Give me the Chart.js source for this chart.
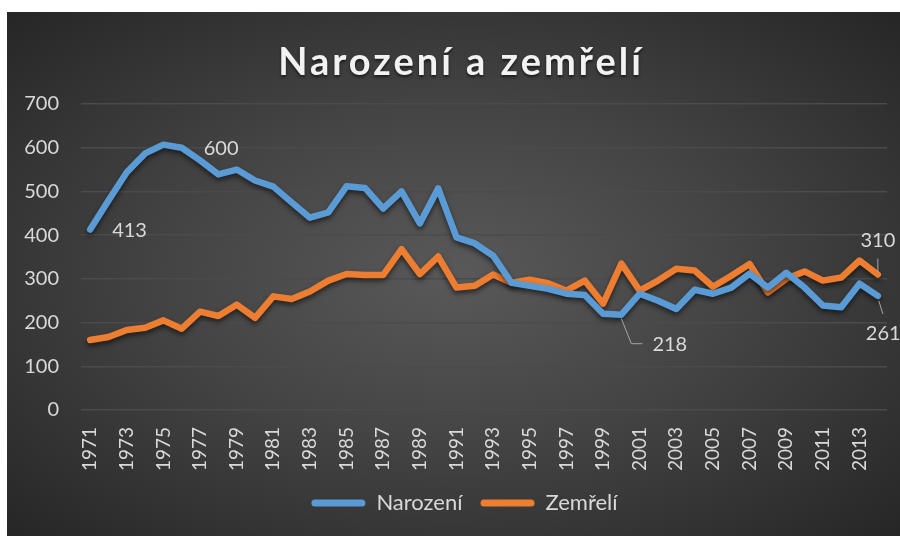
<!DOCTYPE html>
<html lang="cs">
<head>
<meta charset="UTF-8">
<title>Narození a zemřelí</title>
<script src="https://cdn.jsdelivr.net/npm/chart.js"></script>
<style>
  body { margin: 0; background: #fff; }
  #box {
    position: absolute; left: 7px; top: 12px; width: 893px; height: 524px;
    background: radial-gradient(ellipse at 50% 50%, #595959 0%, #444 45%, #262626 100%);
  }
</style>
</head>
<body>
<div id="box"><canvas id="chart" width="893" height="524"></canvas></div>
<script>
const years = [1971, 1972, 1973, 1974, 1975, 1976, 1977, 1978, 1979, 1980,
  1981, 1982, 1983, 1984, 1985, 1986, 1987, 1988, 1989, 1990,
  1991, 1992, 1993, 1994, 1995, 1996, 1997, 1998, 1999, 2000,
  2001, 2002, 2003, 2004, 2005, 2006, 2007, 2008, 2009, 2010,
  2011, 2012, 2013, 2014];
const narozeni = [413, 479, 544, 587, 607, 600, 571, 539, 550, 525,
  511, 475, 440, 452, 512, 508, 461, 500, 427, 507,
  395, 381, 353, 291, 284, 277, 266, 263, 220, 218,
  266, 250, 231, 275, 266, 280, 312, 280, 314, 280,
  239, 235, 289, 261];
const zemreli = [160, 167, 183, 188, 205, 186, 225, 215, 241, 211,
  260, 254, 271, 296, 311, 309, 309, 368, 311, 351,
  280, 284, 310, 291, 298, 290, 273, 296, 243, 335,
  273, 296, 323, 319, 282, 307, 334, 269, 300, 317,
  296, 303, 342, 310];
const yTicks = [0, 100, 200, 300, 400, 500, 600, 700];

const txt = '#d9d9d9';

// labels shown on selected points: [dataset, index, kind]
const pointLabels = [
  [0, 0, 'right'], [0, 5, 'right'], [0, 29, 'leader218'],
  [0, 43, 'leaderDown'], [1, 43, 'leaderUp']
];

const titlePlugin = {
  id: 'bigTitle',
  afterDraw(chart) {
    const ctx = chart.ctx;
    ctx.save();
    ctx.font = 'bold 38px Lato';
    ctx.letterSpacing = '3px';
    ctx.fillStyle = '#f2f2f2';
    ctx.textAlign = 'center';
    ctx.textBaseline = 'alphabetic';
    ctx.shadowColor = 'rgba(0,0,0,0.6)';
    ctx.shadowBlur = 3;
    ctx.shadowOffsetY = 2;
    ctx.fillText('Narození a zemřelí', 454, 63);
    ctx.restore();
  }
};

const lineShadow = {
  id: 'lineShadow',
  beforeDatasetsDraw(chart) {
    const ctx = chart.ctx;
    ctx.save();
    ctx.shadowColor = 'rgba(0,0,0,0.55)';
    ctx.shadowBlur = 5;
    ctx.shadowOffsetY = 3;
  },
  afterDatasetsDraw(chart) {
    chart.ctx.restore();
  }
};

// the legend in the original sits a bit right of centre
const legendShift = {
  id: 'legendShift',
  afterLayout(chart) {
    chart.legend.left += 9;
    chart.legend.right += 9;
  }
};

const valueLabels = {
  id: 'valueLabels',
  afterDatasetsDraw(chart) {
    const ctx = chart.ctx;
    ctx.save();
    ctx.font = '20px Lato';
    ctx.fillStyle = txt;
    ctx.strokeStyle = '#a6a6a6';
    ctx.lineWidth = 1;
    ctx.textBaseline = 'middle';
    pointLabels.forEach(([ds, i, kind]) => {
      const pt = chart.getDatasetMeta(ds).data[i];
      const val = chart.data.datasets[ds].data[i];
      const x = pt.x, y = pt.y;
      if (kind === 'right') {
        ctx.textAlign = 'left';
        ctx.fillText(val, x + 22, y + 1);
      } else if (kind === 'leader218') {
        ctx.beginPath();
        ctx.moveTo(x, y + 4);
        ctx.lineTo(x + 10, y + 29);
        ctx.lineTo(x + 21, y + 29);
        ctx.stroke();
        ctx.textAlign = 'left';
        ctx.fillText(val, x + 31, y + 30);
      } else if (kind === 'leaderDown') {
        ctx.beginPath();
        ctx.moveTo(x + 1, y + 5);
        ctx.lineTo(x + 5, y + 18);
        ctx.stroke();
        ctx.textAlign = 'left';
        ctx.fillText(val, x - 12, y + 38);
      } else {
        ctx.beginPath();
        ctx.moveTo(x, y - 2);
        ctx.lineTo(x, y - 16);
        ctx.stroke();
        ctx.textAlign = 'center';
        ctx.fillText(val, x, y - 34);
      }
    });
    ctx.restore();
  }
};

const legendLabels = chart => Chart.defaults.plugins.legend.labels.generateLabels(chart)
  .map(l => Object.assign(l, { lineWidth: 0, strokeStyle: 'transparent' }));

new Chart(document.getElementById('chart'), {
  type: 'line',
  data: {
    labels: years,
    datasets: [
      {
        label: 'Narození',
        data: narozeni,
        borderColor: '#5b9bd5',
        backgroundColor: '#5b9bd5',
        borderWidth: 6.5,
        pointRadius: 0,
        tension: 0,
        borderJoinStyle: 'round',
        borderCapStyle: 'round'
      },
      {
        label: 'Zemřelí',
        data: zemreli,
        borderColor: '#ed7d31',
        backgroundColor: '#ed7d31',
        borderWidth: 6.5,
        pointRadius: 0,
        tension: 0,
        borderJoinStyle: 'round',
        borderCapStyle: 'round'
      }
    ]
  },
  options: {
    responsive: false,
    animation: false,
    layout: { padding: { top: 92, left: 17, right: 13, bottom: 12 } },
    scales: {
      x: {
        offset: true,
        grid: { display: false, drawTicks: false, tickLength: 0 },
        border: { display: false },
        ticks: {
          autoSkip: false,
          minRotation: 90,
          maxRotation: 90,
          padding: 17,
          color: txt,
          font: { family: 'Lato', size: 19 },
          callback: (v, i) => (i % 2 === 0 ? years[i] : '')
        },
        afterFit: s => {
          s.height = 64;
          s.paddingLeft = 0;
          s.paddingRight = 0;
        }
      },
      y: {
        min: 0,
        max: 700,
        afterBuildTicks: s => { s.ticks = yTicks.map(v => ({ value: v })); },
        grid: { color: '#4b4b4b', lineWidth: 1.5, drawTicks: false, tickLength: 0 },
        border: { display: false },
        ticks: {
          padding: 22,
          color: txt,
          font: { family: 'Lato', size: 20 }
        },
        afterFit: s => { s.width = 57; }
      }
    },
    plugins: {
      title: { display: false },
      tooltip: { enabled: false },
      legend: {
        position: 'bottom',
        labels: {
          boxWidth: 54,
          boxHeight: 7,
          useBorderRadius: true,
          borderRadius: 3.5,
          padding: 18,
          color: txt,
          font: { family: 'Lato', size: 22 },
          generateLabels: legendLabels
        }
      }
    }
  },
  plugins: [lineShadow, legendShift, valueLabels, titlePlugin]
});
</script>
</body>
</html>
